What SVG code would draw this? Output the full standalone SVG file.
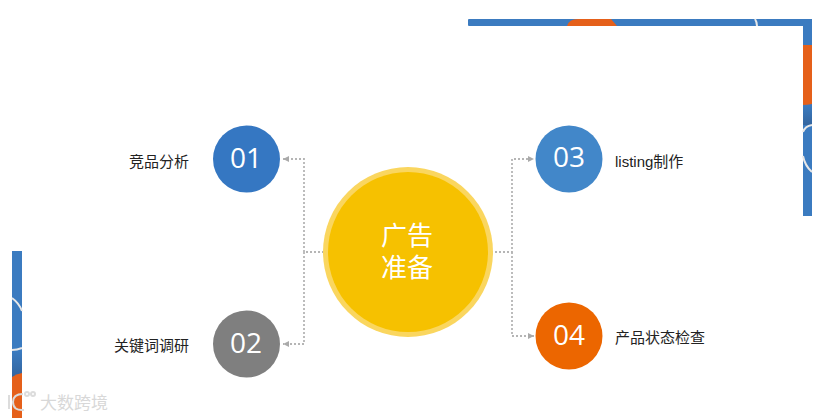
<svg xmlns="http://www.w3.org/2000/svg" width="821" height="418" viewBox="0 0 821 418">
<style>
text{font-family:"Noto Sans CJK SC","Liberation Sans",sans-serif}
.n{font-family:"Open Sans","Liberation Sans",sans-serif;font-size:28px;fill:#fff;text-anchor:middle}
.l{font-size:15px;fill:#222}
.c{fill:none;stroke:#b5b5b5;stroke-width:1.8;stroke-dasharray:2 2}
.w{fill:none;stroke:#e8e8e8;stroke-width:2}
.m{fill:none;stroke:#dcdcdc;stroke-width:2}
</style>
<defs><marker id="a" markerWidth="8" markerHeight="8" refX="6" refY="3" orient="auto" markerUnits="userSpaceOnUse"><path d="M0 0L6 3L0 6z" fill="#aaa"/></marker>
<linearGradient id="d" x1="0" y1="0" x2="0" y2="1"><stop offset="0" stop-color="#3b7bc0"/><stop offset="1" stop-color="#33659f"/></linearGradient></defs>
<rect width="821" height="418" fill="#fff"/>
<g id="frame-top-right">
<rect x="468" y="19" width="344" height="7" rx="1" fill="#3b7bc0"/>
<path d="M567 26Q569 19 578 19H611L617 26z" fill="#e5601a"/>
<rect x="803" y="19" width="9" height="197" fill="#3b7bc0"/>
<rect x="803" y="105" width="9" height="20" fill="url(#d)"/>
<path d="M803 45H812V104Q807 105 803 105z" fill="#e5601a"/>
<path class="w" d="M755 19Q757 22 757 26M812 125Q805 126 803 132M803 156Q805 166 812 172"/>
</g>
<g id="frame-bottom-left">
<rect x="12" y="251" width="10" height="167" fill="#3b7bc0"/>
<rect x="12" y="351" width="10" height="26" fill="url(#d)"/>
<path d="M12 377Q16 374 22 373V418H12z" fill="#e5601a"/>
<path class="w" d="M12 298Q19 303 22 311M12 350Q17 350 22 348"/>
</g>
<g id="connectors">
<path class="c" d="M324 252H304V159H283" marker-end="url(#a)"/>
<path class="c" d="M304 252V344H283" marker-end="url(#a)"/>
<path class="c" d="M491 252H512V159H534" marker-end="url(#a)"/>
<path class="c" d="M512 252V336H534" marker-end="url(#a)"/>
</g>
<g id="center">
<circle cx="408" cy="252" r="85" fill="#fad65f"/>
<circle cx="408" cy="252" r="80" fill="#f6c100"/>
<text font-size="26" fill="#fff" text-anchor="middle"><tspan x="407" y="245">广告</tspan><tspan x="407" y="277">准备</tspan></text>
</g>
<g id="node-01"><circle cx="246.500" cy="159" r="33.500" fill="#3577c2"/><text class="n" x="246" y="168">01</text><text class="l" x="129" y="167">竞品分析</text></g>
<g id="node-02"><circle cx="246.500" cy="344" r="33.500" fill="#7f7f7f"/><text class="n" x="246" y="353">02</text><text class="l" x="114" y="351">关键词调研</text></g>
<g id="node-03"><circle cx="569" cy="159" r="33.500" fill="#4287c9"/><text class="n" x="569" y="167">03</text><text class="l" x="615" y="167" style="font-family:'Liberation Sans','Noto Sans CJK SC',sans-serif">listing制作</text></g>
<g id="node-04"><circle cx="569" cy="336" r="33.500" fill="#ec6600"/><text class="n" x="569" y="345">04</text><text class="l" x="615" y="343">产品状态检查</text></g>
<g id="watermark"><path class="m" d="M9 395V409M23 394Q13 394 13 402Q13 411 24 410"/><circle class="m" cx="27" cy="394" r="2" stroke-width="1"/><circle class="m" cx="33" cy="394" r="2" stroke-width="1"/><text x="40" y="409" font-size="17" fill="#d8d8d8">大数跨境</text></g>
</svg>
